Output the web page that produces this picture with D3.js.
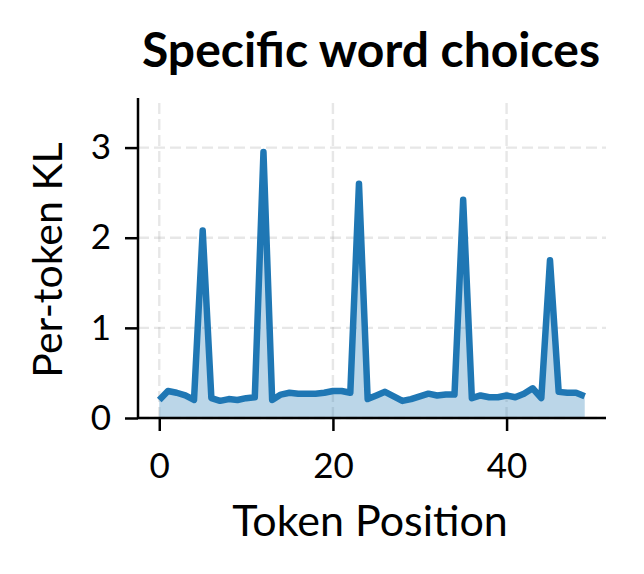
<!DOCTYPE html>
<html>
<head>
<meta charset="utf-8">
<script src="https://cdn.jsdelivr.net/npm/d3@7"></script>
<style>
  body { margin: 0; background: #fff; }
  text { font-family: Lato, "Noto Sans", sans-serif; fill: #000; }
</style>
</head>
<body>
<svg id="Target" width="644" height="574"></svg>
<script>
const positions = d3.range(50);
const klValues = [
    0.20, 0.30, 0.28, 0.25, 0.20, 2.08, 0.22, 0.19, 0.21, 0.20,
    0.22, 0.23, 2.95, 0.20, 0.26, 0.28, 0.27, 0.27, 0.27, 0.28,
    0.30, 0.30, 0.28, 2.60, 0.21, 0.25, 0.29, 0.24, 0.19, 0.21,
    0.24, 0.27, 0.25, 0.26, 0.26, 2.42, 0.22, 0.25, 0.23, 0.23,
    0.25, 0.23, 0.27, 0.33, 0.22, 1.75, 0.29, 0.28, 0.28, 0.24
];
const xTicks = [0, 20, 40];
const yTicks = [0, 1, 2, 3];
const titleText = "Specific word choices";
const xLabel = "Token Position";
const yLabel = "Per-token KL";

const data = positions.map((p, i) => ({x: p, y: klValues[i]}));

const [width, height] = [644, 574];
const margin = {left: 138, right: 38, top: 98, bottom: 156};

const svg = d3.select("#Target");

const x = d3.scaleLinear()
    .domain([-2.45, 51.45])
    .range([margin.left, width - margin.right]);

const y = d3.scaleLinear()
    .domain([0, 3.55])
    .range([height - margin.bottom, margin.top]);

// grid
const grid = svg.append("g")
    .attr("stroke", "#b0b0b0")
    .attr("stroke-opacity", 0.3)
    .attr("stroke-width", 2.4)
    .attr("stroke-dasharray", "11,5");

grid.selectAll(".gx")
    .data(xTicks)
    .join("line")
    .attr("x1", d => x(d)).attr("x2", d => x(d))
    .attr("y1", y.range()[0]).attr("y2", y.range()[1]);

grid.selectAll(".gy")
    .data(yTicks)
    .join("line")
    .attr("x1", x.range()[0]).attr("x2", x.range()[1])
    .attr("y1", d => y(d)).attr("y2", d => y(d));

// area and line
const area = d3.area()
    .x(d => x(d.x))
    .y0(y(0))
    .y1(d => y(d.y));

const line = d3.line()
    .x(d => x(d.x))
    .y(d => y(d.y));

svg.append("path")
    .datum(data)
    .attr("d", area)
    .attr("fill", "#1f77b4")
    .attr("fill-opacity", 0.3);

svg.append("path")
    .datum(data)
    .attr("d", line)
    .attr("fill", "none")
    .attr("stroke", "#1f77b4")
    .attr("stroke-width", 6.5)
    .attr("stroke-linejoin", "round")
    .attr("stroke-linecap", "butt");

// axes
const xAxis = svg.append("g")
    .attr("transform", `translate(0,${y(0)})`)
    .call(d3.axisBottom(x).tickValues(xTicks).tickSize(13).tickPadding(22).tickFormat(d3.format("d")));

const yAxis = svg.append("g")
    .attr("transform", `translate(${x.range()[0]},0)`)
    .call(d3.axisLeft(y).tickValues(yTicks).tickSize(13).tickPadding(14).tickFormat(d3.format("d")));

[xAxis, yAxis].forEach(g => {
    g.select(".domain").attr("stroke", "#000").attr("stroke-width", 2.5);
    g.selectAll(".tick line").attr("stroke", "#000").attr("stroke-width", 2.5);
    g.selectAll(".tick text")
        .attr("font-family", "Lato, 'Noto Sans', sans-serif")
        .attr("font-size", 35)
        .attr("fill", "#000");
});
xAxis.select(".domain").attr("d", `M${x.range()[0]},0H${x.range()[1]}`);
yAxis.select(".domain").attr("d", `M0,${y.range()[0]}V${y.range()[1]}`);

// labels
svg.append("text")
    .attr("x", 371)
    .attr("y", 67)
    .attr("text-anchor", "middle")
    .attr("font-size", 48)
    .attr("font-weight", "bold")
    .text(titleText);

svg.append("text")
    .attr("x", 370)
    .attr("y", 536)
    .attr("text-anchor", "middle")
    .attr("font-size", 43)
    .text(xLabel);

svg.append("text")
    .attr("transform", `translate(62,260) rotate(-90)`)
    .attr("text-anchor", "middle")
    .attr("font-size", 41)
    .text(yLabel);
</script>
</body>
</html>
